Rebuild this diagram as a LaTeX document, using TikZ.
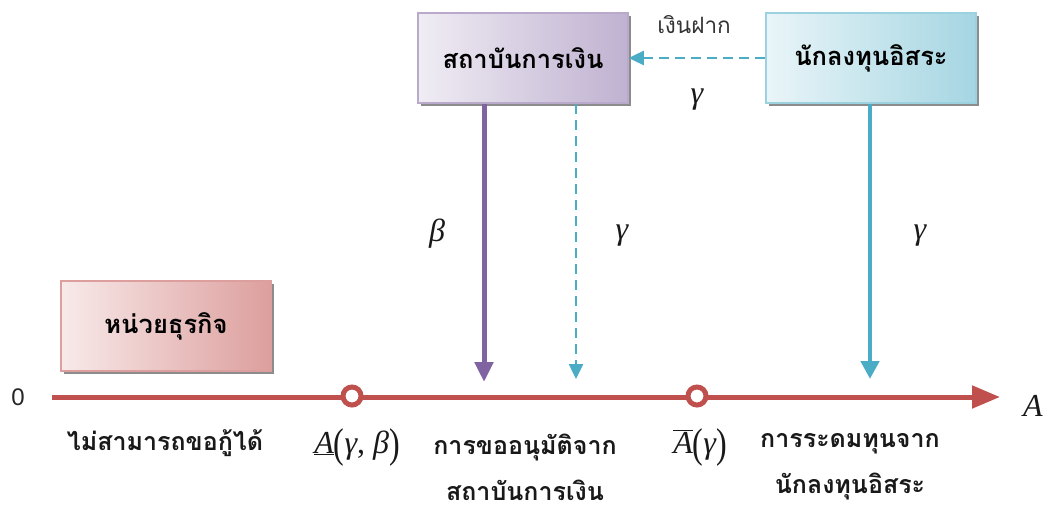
\documentclass[tikz,border=0pt]{standalone}
\usepackage{fontspec}
\newfontfamily\thai[Script=Thai]{Loma}
\newfontfamily\tms{Liberation Serif}
\newfontfamily\lsans{Liberation Sans}
\usetikzlibrary{arrows.meta,shadows}
\definecolor{axisred}{HTML}{C0504D}
\definecolor{purp}{HTML}{8064A2}
\definecolor{cyanb}{HTML}{4BACC6}
\newcommand{\tv}[1]{{\tms\itshape #1}}
\newcommand{\bpar}[1]{\raisebox{-0.12em}{\scalebox{1}[1.3]{#1}}}
\tikzset{
  box/.style={minimum width=210pt, minimum height=90pt, inner sep=0pt, line width=1.5pt,
    font=\thai\bfseries\fontsize{25.5}{28}\selectfont,
    drop shadow={shadow xshift=3pt, shadow yshift=-3pt, fill=black!45, opacity=1}},
  purbox/.style={box, draw=purp!55, left color=purp!12, right color=purp!50},
  cyanbox/.style={box, draw=cyanb!55, left color=cyanb!12, right color=cyanb!50},
  redbox/.style={box, draw=axisred!55, left color=axisred!12, right color=axisred!55},
  lab/.style={font=\thai\bfseries\fontsize{25}{46}\selectfont, text=black!90, inner sep=1pt},
  mlab/.style={font=\tms\fontsize{32}{36}\selectfont, text=black!90, inner sep=0pt},
  gap/.style={circle, draw=axisred, fill=white, line width=5pt, minimum size=18pt, inner sep=0pt},
}
\begin{document}
\begin{tikzpicture}[x=1pt,y=1pt]
\useasboundingbox (0,0) rectangle (1048,-511);
\fill[white] (0,0) rectangle (1048,-511);
% boxes
\node[purbox] (fin) at (523,-58) {สถาบันการเงิน};
\node[cyanbox] (inv) at (871,-58) {นักลงทุนอิสระ};
\node[redbox] (firm) at (166,-326) {หน่วยธุรกิจ};
% coordinates
\coordinate (o) at (52,-397);
\coordinate (aend) at (1000,-397);
\coordinate (pb) at (484,-382);
\coordinate (pg) at (576,-379);
\coordinate (pi) at (870,-379);
% axis
\draw[axisred, line width=5pt, -{Triangle[length=28pt,width=22pt]}] (o) -- (aend);
\node[gap] (c1) at (352,-396) {};
\node[gap] (c2) at (697,-396) {};
% arrows
\draw[purp, line width=5pt, -{Triangle[length=20pt,width=18pt]}] (fin.south -| pb) -- (pb);
\draw[cyanb, line width=2.5pt, dash pattern=on 10pt off 6pt, -{Triangle[length=15pt,width=14pt]}] (fin.south -| pg) -- (pg);
\draw[cyanb, line width=4.5pt, -{Triangle[length=18pt,width=18pt]}] (inv.south -| pi) -- (pi);
\draw[cyanb, line width=2.5pt, dash pattern=on 10pt off 6pt, -{Triangle[length=15pt,width=14pt]}] (inv.west) -- (fin.east);
% labels
\node[font=\thai\fontsize{22.5}{26}\selectfont, text=black!80] (dep) at (694,-25) {เงินฝาก};
\node[mlab] (g0) at (697,-100) {\tv{γ}};
\node[mlab] (b1) at (437,-234) {\tv{β}};
\node[mlab] (g1) at (622,-236) {\tv{γ}};
\node[mlab] (g2) at (920,-236) {\tv{γ}};
\node[font=\lsans\fontsize{24}{28}\selectfont, text=black!85, inner sep=0pt] (zero) at (18,-397) {0};
\node[mlab] (alab) at (1033,-406) {\tv{A}};
\node[lab] (t1) at (165,-443) {ไม่สามารถขอกู้ได้};
\node[mlab] (t2) at (357,-447) {\underline{\tv{A}}\bpar{(}\tv{γ}, \tv{β}\bpar{)}};
\node[lab, align=center] (t3) at (525,-467) {การขออนุมัติจาก\\สถาบันการเงิน};
\node[mlab] (t4) at (700,-447) {$\overline{\hbox{\tv{A}}}$\bpar{(}\tv{γ}\bpar{)}};
\node[lab, align=center] (t5) at (850,-467) {การระดมทุนจาก\\นักลงทุนอิสระ};
\end{tikzpicture}
\end{document}
